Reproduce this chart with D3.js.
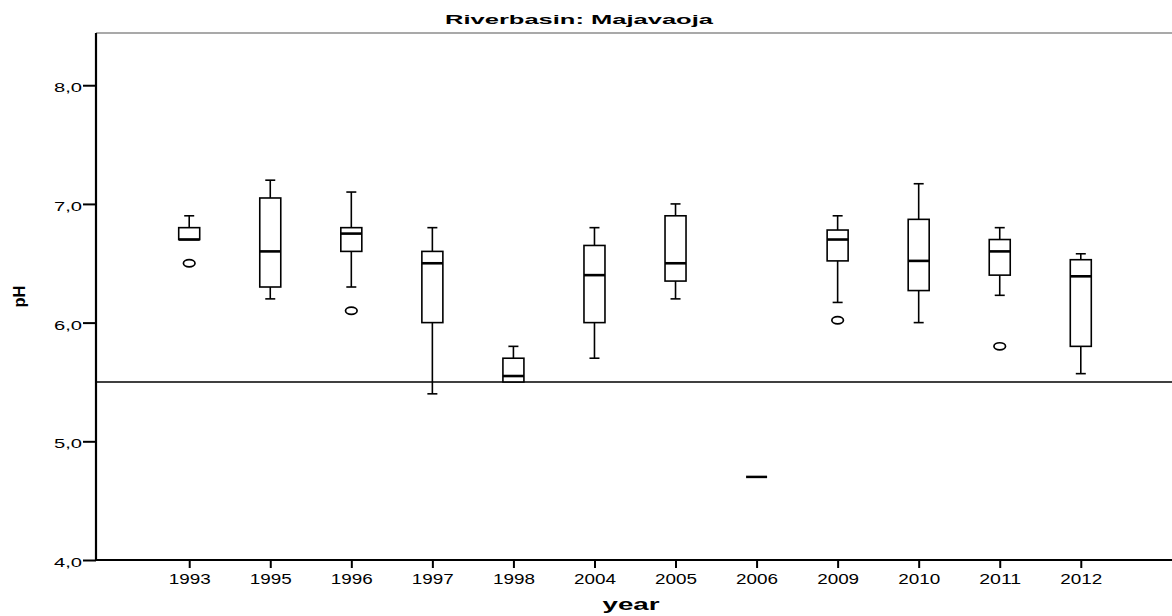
<!DOCTYPE html>
<html><head><meta charset="utf-8">
<script src="https://cdn.jsdelivr.net/npm/d3@7"></script>
<style>body{margin:0;background:#fff}svg{display:block}text{font-family:"Liberation Sans",Arial,sans-serif}</style>
</head><body><svg id="c" width="1172" height="616"></svg>
<script>
const years = ["1993","1995","1996","1997","1998","2004","2005","2006","2009","2010","2011","2012"];
const whiskerLow  = [6.70,6.20,6.30,5.40,5.50,5.70,6.20,4.70,6.17,6.00,6.23,5.57];
const q1          = [6.70,6.30,6.60,6.00,5.50,6.00,6.35,4.70,6.52,6.27,6.40,5.80];
const medians     = [6.70,6.60,6.75,6.50,5.55,6.40,6.50,4.70,6.70,6.52,6.60,6.39];
const q3          = [6.80,7.05,6.80,6.60,5.70,6.65,6.90,4.70,6.78,6.87,6.70,6.53];
const whiskerHigh = [6.90,7.20,7.10,6.80,5.80,6.80,7.00,4.70,6.90,7.17,6.80,6.58];
const outlierYears  = ["1993","1996","2009","2011"];
const outlierValues = [6.50,6.10,6.02,5.80];
const yTicks = [4,5,6,7,8];
const refValue = 5.5;

const svg = d3.select("#c");
const L = 96, R = 1174, T = 33, B = 560;
const x = d3.scalePoint().domain(years).range([L, R]).padding(1.15);
const y = d3.scaleLinear().domain([4, 8.44]).range([B, T]);
const fmt = v => d3.format(".1f")(v).replace(".", ",");

// frame top (thin gray)
svg.append("line").attr("x1",L).attr("x2",R).attr("y1",T).attr("y2",T).attr("stroke","#555").attr("stroke-width",1.2);

// reference line
svg.append("line").attr("x1",L).attr("x2",R).attr("y1",y(refValue)).attr("y2",y(refValue)).attr("stroke","#000").attr("stroke-width",1.5);

const data = years.map((yr,i)=>({yr, lo:whiskerLow[i], q1:q1[i], med:medians[i], q3:q3[i], hi:whiskerHigh[i]}));
const bw = 21, cap = 5;
const g = svg.append("g");
data.forEach(d=>{
  const cx = x(d.yr);
  const single = d.lo===d.hi;
  if (single) {
    g.append("line").attr("x1",cx-bw/2).attr("x2",cx+bw/2).attr("y1",y(d.med)).attr("y2",y(d.med)).attr("stroke","#000").attr("stroke-width",2.5);
    return;
  }
  if (d.hi > d.q3) {
    g.append("line").attr("x1",cx).attr("x2",cx).attr("y1",y(d.hi)).attr("y2",y(d.q3)).attr("stroke","#000").attr("stroke-width",1.6);
    g.append("line").attr("x1",cx-cap).attr("x2",cx+cap).attr("y1",y(d.hi)).attr("y2",y(d.hi)).attr("stroke","#000").attr("stroke-width",1.6);
  }
  if (d.lo < d.q1) {
    g.append("line").attr("x1",cx).attr("x2",cx).attr("y1",y(d.q1)).attr("y2",y(d.lo)).attr("stroke","#000").attr("stroke-width",1.6);
    g.append("line").attr("x1",cx-cap).attr("x2",cx+cap).attr("y1",y(d.lo)).attr("y2",y(d.lo)).attr("stroke","#000").attr("stroke-width",1.6);
  }
  g.append("rect").attr("x",cx-bw/2).attr("y",y(d.q3)).attr("width",bw).attr("height",y(d.q1)-y(d.q3))
    .attr("fill","#fff").attr("stroke","#000").attr("stroke-width",1.6);
  g.append("line").attr("x1",cx-bw/2).attr("x2",cx+bw/2).attr("y1",y(d.med)).attr("y2",y(d.med)).attr("stroke","#000").attr("stroke-width",2.6);
});

// outliers
outlierYears.forEach((yr,i)=>{
  svg.append("ellipse").attr("cx",x(yr)).attr("cy",y(outlierValues[i])).attr("rx",5.8).attr("ry",3.6)
    .attr("fill","none").attr("stroke","#000").attr("stroke-width",1.7);
});

// y axis
const yAxis = svg.append("g").attr("transform",`translate(${L},0)`)
  .call(d3.axisLeft(y).tickValues(yTicks).tickFormat(fmt).tickSize(13).tickPadding(1));
yAxis.select(".domain").attr("stroke-width",2.2).attr("d",`M0,${B}V${T}`);
yAxis.selectAll(".tick line").attr("stroke-width",2);
yAxis.selectAll("text").attr("font-size",13.5).attr("fill","#000").attr("dy",null).attr("y",6.5)
  .attr("textLength",28).attr("lengthAdjust","spacingAndGlyphs");

// x axis
const xAxis = svg.append("g").attr("transform",`translate(0,${B})`)
  .call(d3.axisBottom(x).tickSize(8).tickPadding(4));
xAxis.select(".domain").attr("stroke-width",2.2).attr("d",`M${L},0H${R}`);
xAxis.selectAll(".tick line").attr("stroke-width",2);
xAxis.selectAll("text").attr("font-size",14.5).attr("fill","#000").attr("dy",null).attr("y",24)
  .attr("textLength",42).attr("lengthAdjust","spacingAndGlyphs");

// titles
svg.append("text").attr("x",445).attr("y",24).attr("font-weight","bold").attr("font-size",12.8)
  .attr("textLength",268).attr("lengthAdjust","spacingAndGlyphs").text("Riverbasin: Majavaoja");
svg.append("text").attr("x",631).attr("y",610).attr("text-anchor","middle").attr("font-weight","bold").attr("font-size",16.5)
  .attr("textLength",57).attr("lengthAdjust","spacingAndGlyphs").text("year");
svg.append("text").attr("transform",`translate(25,${(T+B)/2}) rotate(-90)`).attr("text-anchor","middle").attr("font-weight","bold").attr("font-size",16.5)
  .attr("textLength",22).attr("lengthAdjust","spacingAndGlyphs").text("pH");
</script></body></html>
